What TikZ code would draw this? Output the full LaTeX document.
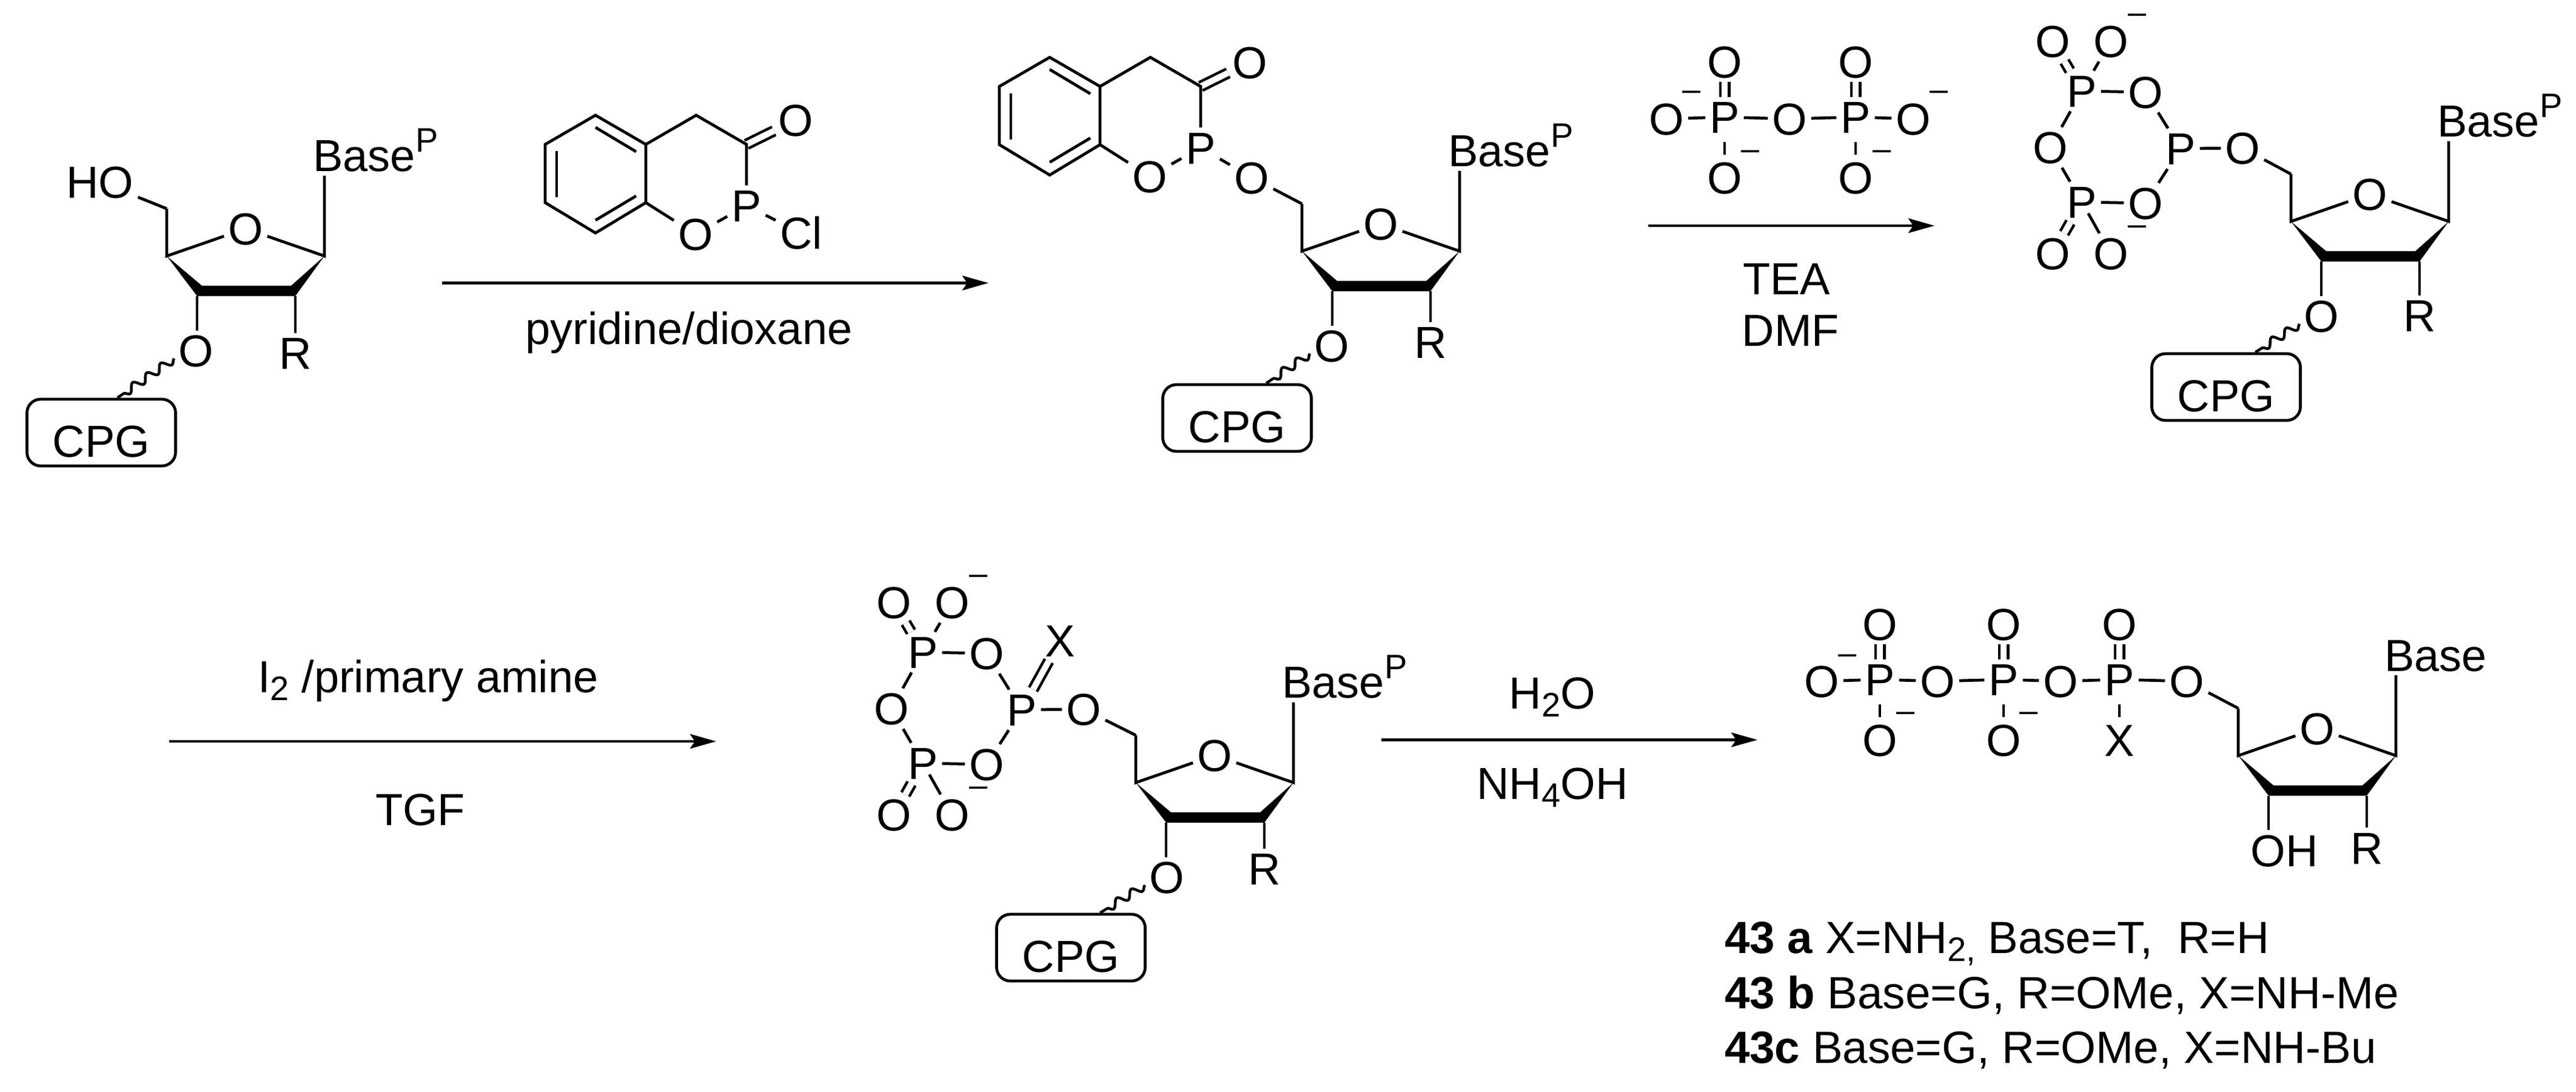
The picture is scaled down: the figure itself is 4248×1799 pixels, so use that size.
\documentclass[tikz,border=0pt]{standalone}
\usepackage{fontspec}
\setmainfont{Liberation Sans}
\usetikzlibrary{arrows.meta, decorations.pathmorphing}

\newcommand{\labelfont}{\fontsize{14.8}{17}\selectfont}
\newcommand{\basep}{Base\kern.2pt\raisebox{6.4pt}{\fontsize{11.2}{12}\selectfont P}}
\newcommand{\low}[1]{\raisebox{-2.7pt}{\fontsize{11.2}{12}\selectfont #1}}

\tikzset{
  atom/.style={font=\labelfont, inner sep=1.2pt, text height=10.6pt, text depth=0pt},
  charge/.style={font=\fontsize{10.8}{12}\selectfont, inner sep=0pt, text height=6pt, text depth=0pt},
  txt/.style={font=\labelfont, inner sep=0pt},
  bond/.style={line width=.95pt},
  dbond/.style={line width=.9pt, double, double distance=2pt},
  sbond/.style={bond, shorten <=1.4pt, shorten >=.8pt},
  wavy/.style={line width=.9pt, decorate, decoration={snake, amplitude=1.3pt, segment length=5.6pt}},
  rxn/.style={line width=.93pt, -{Stealth[length=8.6pt, width=4.8pt, inset=1.6pt]}},
  cpgbox/.style={draw, line width=.95pt, rounded corners=4.5pt, font=\labelfont, inner sep=0pt,
    text width=49pt, align=center, text height=19pt, text depth=3pt}
}

% sugar ring, origin at C4': base label, 3' label, its x, y of R
\newcommand{\sugar}[4]{
  \coordinate (ch2) at (0,-78);
  \coordinate (c4) at (0,0);
  \coordinate (c1) at (260,0);
  \coordinate (c3) at (50,66);
  \coordinate (c2) at (212,66);
  \node[atom] (ro) at (130,-45) {O};
  \node[atom, anchor=west] (base) at (234,-166) {#1};
  \node[atom] (o3) at (#3,156) {#2};
  \node[atom] (r) at (212,#4) {R};
  \fill (c4) -- (58,49) -- (205,49) -- (c1) -- (c2) -- (c3) -- cycle;
  \draw[bond] (ch2) -- (c4) -- (ro) -- (c1) -- (c1 |- base.south);
  \draw[bond] (c3) -- (c3 |- o3.north);
  \draw[bond] (c2) -- (r);
}

% benzo ring with P, origin at top vertex
\newcommand{\benzo}{
  \coordinate (b1) at (0,0);
  \coordinate (b2) at (83,48);
  \coordinate (b3) at (83,144);
  \coordinate (b4) at (0,194);
  \coordinate (b5) at (-83,144);
  \coordinate (b6) at (-83,48);
  \coordinate (ch) at (166,0);
  \coordinate (co) at (249,48);
  \node[atom] (p) at (249,149) {P};
  \node[atom] (o) at (165,196) {O};
  \node[atom] (oc) at (330,8) {O};
  \draw[dbond] (co) -- (oc);
  \draw[bond, line join=miter] (b1) -- (b2) -- (b3) -- (b4) -- (b5) -- (b6) -- cycle;
  \draw[bond] (0,20) -- (67,60);
  \draw[bond] (67,133) -- (0,173);
  \draw[bond] (-64,59) -- (-64,135);
  \draw[bond] (b2) -- (ch) -- (co) -- (p) -- (o) -- (b3);
}

% cyclic phosphate, origin at the middle P
\newcommand{\pring}{
  \node[atom] (pc) at (0,0) {P};
  \node[atom] (pt) at (-163,-95) {P};
  \node[atom] (pb) at (-163,88) {P};
  \node[atom] (ot) at (-58,-93) {O};
  \node[atom] (ob) at (-58,90) {O};
  \node[atom] (ol) at (-215,-2) {O};
  \node[atom] (o5) at (102,-1) {O};
  \node[atom] (otl) at (-211,-177) {O};
  \node[atom] (otr) at (-115,-177) {O};
  \node[atom] (obl) at (-211,173) {O};
  \node[atom] (obr) at (-115,173) {O};
  \node[charge] (m1) at (-72,-222) {–};
  \node[charge] (m2) at (-72,127) {–};
  \draw[dbond] (pt) -- (otl);
  \draw[dbond] (pb) -- (obl);
  \draw[bond] (pt) -- (otr);
  \draw[bond, shorten <=-3.4pt] (pb) -- (obr);
  \draw[bond] (pt) -- (ot) -- (pc) -- (ob) -- (pb) -- (ol) -- (pt);
  \draw[bond] (pc) -- (o5);
}

\begin{document}
\begin{tikzpicture}[x=.2pt, y=-.2pt]
  \useasboundingbox (0,0) rectangle (4248,1799);

  % top left
  \begin{scope}[shift={(275,422)}, name prefix=s1-]
    \sugar{\basep}{O}{48}{160}
  \end{scope}
  \node[atom] (ho) at (165,300) {HO};
  \node[cpgbox] (cpg1) at (167,713) {CPG};
  \draw[bond] (s1-ch2) -- (ho);
  \draw[wavy] (s1-o3.200) -- (cpg1.65);

  % reagent
  \begin{scope}[shift={(982,190)}, name prefix=b1-]
    \benzo
  \end{scope}
  \node[atom] (cl) at (1321,384) {Cl};
  \draw[bond] (b1-p) -- (cl);

  \coordinate (a1s) at (729,466.5);
  \coordinate (a1e) at (1630,466.5);
  \draw[rxn] (a1s) -- (a1e);
  \node[txt] (t1) at (1136,548) {pyridine/dioxane};

  % second compound
  \begin{scope}[shift={(1731,94.5)}, name prefix=b2-]
    \benzo
  \end{scope}
  \begin{scope}[shift={(2147,414)}, name prefix=s2-]
    \sugar{\basep}{O}{49}{150}
  \end{scope}
  \node[atom] (o5a) at (2064,292.5) {O};
  \node[cpgbox] (cpg2) at (2040,689) {CPG};
  \draw[bond] (b2-p) -- (o5a) -- (s2-ch2);
  \draw[wavy] (s2-o3.200) -- (cpg2.50);

  % pyrophosphate
  \node[atom] (pa) at (2844,193) {P};
  \node[atom] (pd) at (3060,193) {P};
  \node[atom] (oa) at (2748,196) {O};
  \node[atom] (om) at (2951,196) {O};
  \node[atom] (oz) at (3155,196) {O};
  \node[atom] (ota) at (2844,101.5) {O};
  \node[atom] (otd) at (3060,101.5) {O};
  \node[atom] (oba) at (2844,292.5) {O};
  \node[atom] (obd) at (3060,292.5) {O};
  \node[charge] (ma) at (2789,150) {–};
  \node[charge] (mb) at (2886,248) {–};
  \node[charge] (mc) at (3103,248) {–};
  \node[charge] (md) at (3197,150) {–};
  \draw[bond] (oa) -- (pa) -- (om) -- (pd) -- (oz);
  \foreach \a/\b in {pa/ota, pd/otd}
    \draw[dbond] (\a) -- (\b);
  \foreach \a/\b in {pa/oba, pd/obd}
    \draw[sbond] (\a) -- (\b);

  \coordinate (a2s) at (2718,372);
  \coordinate (a2e) at (3190,372);
  \draw[rxn] (a2s) -- (a2e);
  \node[txt] (t2) at (2946,460) {TEA};
  \node[txt] (t3) at (2953,545) {DMF};

  % third compound
  \begin{scope}[shift={(3596,245)}, name prefix=r3-]
    \pring
  \end{scope}
  \begin{scope}[shift={(3778,365)}, name prefix=s3-]
    \sugar{\basep}{O}{50}{155}
  \end{scope}
  \node[cpgbox] (cpg3) at (3671,638) {CPG};
  \draw[bond] (r3-o5) -- (s3-ch2);
  \draw[wavy] (s3-o3.200) -- (cpg3.50);

  % bottom row
  \coordinate (a3s) at (279,1222);
  \coordinate (a3e) at (1181,1222);
  \draw[rxn] (a3s) -- (a3e);
  \node[txt, anchor=base] (t4) at (706,1141) {I\low{2} /primary amine};
  \node[txt, anchor=base] (t5) at (693,1360) {TGF};

  \begin{scope}[shift={(1685,1170)}, name prefix=r4-]
    \pring
  \end{scope}
  \begin{scope}[shift={(1873,1290)}, name prefix=s4-]
    \sugar{\basep}{O}{51}{142}
  \end{scope}
  \node[atom] (x4) at (1748,1056) {X};
  \node[cpgbox] (cpg4) at (1766,1562) {CPG};
  \draw[dbond] (r4-pc) -- (x4);
  \draw[bond] (r4-o5) -- (s4-ch2);
  \draw[wavy] (s4-o3.200) -- (cpg4.50);

  \coordinate (a4s) at (2278,1219.5);
  \coordinate (a4e) at (2898,1219.5);
  \draw[rxn] (a4s) -- (a4e);
  \node[txt] (t6) at (2560,1149) {H\low{2}O};
  \node[txt] (t7) at (2560,1298) {NH\low{4}OH};

  % triphosphate product
  \node[atom] (q1) at (3100,1120) {P};
  \node[atom] (q2) at (3304,1120) {P};
  \node[atom] (q3) at (3495,1120) {P};
  \node[atom] (u0) at (3004,1123) {O};
  \node[atom] (u1) at (3195,1123) {O};
  \node[atom] (u2) at (3398,1123) {O};
  \node[atom] (u3) at (3606,1123) {O};
  \node[atom] (v1) at (3100,1028.5) {O};
  \node[atom] (v2) at (3304,1028.5) {O};
  \node[atom] (v3) at (3495,1028.5) {O};
  \node[atom] (w1) at (3100,1219.5) {O};
  \node[atom] (w2) at (3304,1219.5) {O};
  \node[atom] (x5) at (3495,1219.5) {X};
  \node[charge] (n1) at (3046,1079) {–};
  \node[charge] (n2) at (3142,1174) {–};
  \node[charge] (n3) at (3345,1174) {–};
  \begin{scope}[shift={(3691,1245.5)}, name prefix=s5-]
    \sugar{Base}{OH}{76}{152}
  \end{scope}
  \draw[bond] (u0) -- (q1) -- (u1) -- (q2) -- (u2) -- (q3) -- (u3) -- (s5-ch2);
  \foreach \a/\b in {q1/v1, q2/v2, q3/v3}
    \draw[dbond] (\a) -- (\b);
  \foreach \a/\b in {q1/w1, q2/w2, q3/x5}
    \draw[sbond] (\a) -- (\b);

  \node[txt, anchor=base west, font=\fontsize{14.9}{17}\selectfont] (l1) at (2843,1571) {\textbf{43 a} X=NH\low{2,} Base=T,~ R=H};
  \node[txt, anchor=base west, font=\fontsize{14.9}{17}\selectfont] (l2) at (2843,1662) {\textbf{43 b} Base=G, R=OMe, X=NH-Me};
  \node[txt, anchor=base west, font=\fontsize{14.9}{17}\selectfont] (l3) at (2843,1752) {\textbf{43c} Base=G, R=OMe, X=NH-Bu};
\end{tikzpicture}
\end{document}
